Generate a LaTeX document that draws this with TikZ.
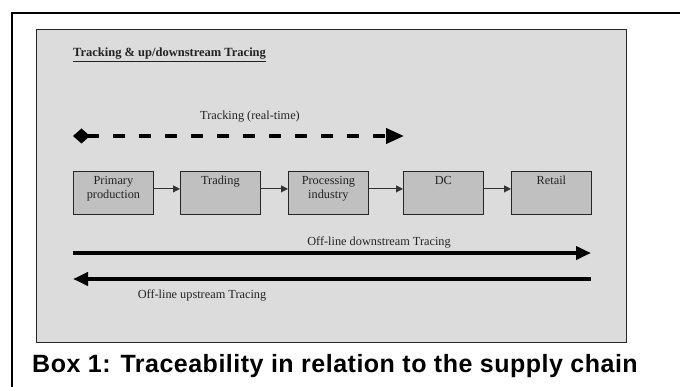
\documentclass[tikz,border=0pt]{standalone}
\usepackage{fontspec}
\setmainfont{Liberation Serif}
\newfontfamily\capfont[LetterSpace=2]{Liberation Sans}
\usetikzlibrary{arrows.meta}
\definecolor{panel}{HTML}{DCDCDC}
\definecolor{boxfill}{HTML}{C0C0C0}
\definecolor{txt}{HTML}{222222}
\tikzset{
  x=1pt,y=-1pt,
  stagebox/.style={draw=black!85,line width=0.8pt,fill=boxfill,minimum width=80pt,minimum height=43pt,anchor=north west,inner sep=0pt},
  stagetext/.style={font=\fontsize{12.3}{14}\selectfont,text=txt,align=center,anchor=north,inner sep=0pt},
  flow/.style={draw=black!80,line width=0.9pt,-{Triangle[length=7pt,width=7pt]}},
  bigarrow/.style={line width=4pt,-{Triangle[length=15pt,width=13pt]}},
  lbl/.style={font=\fontsize{12.3}{14}\selectfont,text=txt,inner sep=0pt},
}
\begin{document}
\begin{tikzpicture}
\useasboundingbox (0,0) rectangle (680,387);
\fill[white] (0,0) rectangle (680,387);
% outer frame
\draw[line width=1.5pt] (12,390) -- (12,13) -- (683,13);
% panel
\draw[fill=panel,draw=black!85,line width=0.8pt] (36,29) rectangle (626,342);
% title
\node[lbl,anchor=base west,font=\fontsize{12.5}{14}\selectfont\bfseries] (title) at (73,57) {\underline{Tracking \& up/downstream Tracing}};
% tracking
\node[lbl,anchor=base] (trk) at (250,120) {Tracking (real-time)};
\coordinate (ts) at (73,136);
\coordinate (te) at (404,136);
\draw[line width=4pt,dash pattern=on 12pt off 14pt,{Diamond[length=17pt,width=15pt]}-{Triangle[length=18pt,width=15pt]}] (ts) -- (te);
% boxes
\node[stagebox] (b1) at (73,171) {};
\node[stagebox] (b2) at (180,171) {};
\node[stagebox] (b3) at (288,171) {};
\node[stagebox] (b4) at (403,171) {};
\node[stagebox] (b5) at (511,171) {};
\node[stagetext] (t1) at ([yshift=-5pt]b1.north) {Primary\\production};
\node[stagetext] (t2) at ([yshift=-5pt]b2.north) {Trading};
\node[stagetext] (t3) at ([yshift=-5pt]b3.north) {Processing\\industry};
\node[stagetext] (t4) at ([yshift=-5pt]b4.north) {DC};
\node[stagetext] (t5) at ([yshift=-5pt]b5.north) {Retail};
\draw[flow] ([yshift=4pt]b1.east) -- ([yshift=4pt]b2.west);
\draw[flow] ([yshift=4pt]b2.east) -- ([yshift=4pt]b3.west);
\draw[flow] ([yshift=4pt]b3.east) -- ([yshift=4pt]b4.west);
\draw[flow] ([yshift=4pt]b4.east) -- ([yshift=4pt]b5.west);
% offline tracing
\node[lbl,anchor=base] (dn) at (379,246) {Off-line downstream Tracing};
\coordinate (ds) at (73,253);
\coordinate (de) at (591,253);
\draw[bigarrow] (ds) -- (de);
\coordinate (us) at (591,279);
\coordinate (ue) at (73,279);
\draw[bigarrow] (us) -- (ue);
\node[lbl,anchor=base] (up) at (202,299) {Off-line upstream Tracing};
% caption
\node[anchor=base west,inner sep=0pt,font=\capfont\fontsize{25}{27}\selectfont\bfseries] (cap) at (32,372) {Box 1: Traceability in relation to the supply chain};
\end{tikzpicture}
\end{document}
